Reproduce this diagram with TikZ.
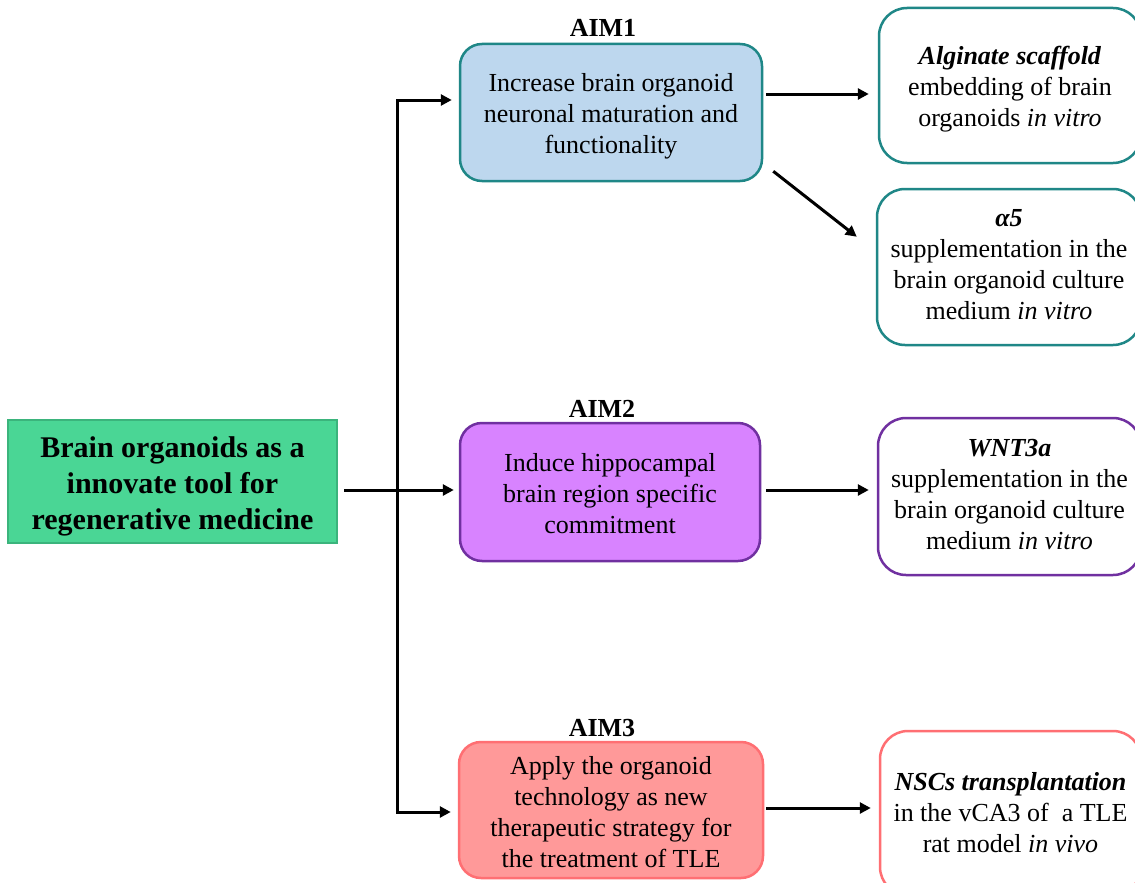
\documentclass[tikz,border=0pt]{standalone}
\usepackage{fontspec}
\setmainfont{Liberation Serif}
\usetikzlibrary{arrows.meta,calc,positioning}
\definecolor{gfill}{HTML}{4AD695}
\definecolor{gdraw}{HTML}{3BB47C}
\definecolor{bfill}{HTML}{BDD7EE}
\definecolor{teal2}{HTML}{1F8787}
\definecolor{pfill}{HTML}{D883FF}
\definecolor{pdraw}{HTML}{7030A0}
\definecolor{rfill}{HTML}{FF9999}
\definecolor{rdraw}{HTML}{FF6F73}
\tikzset{
  txt/.style={font=\fontsize{26}{31}\selectfont, align=center, inner sep=0pt},
  gtxt/.style={font=\fontsize{30}{36}\selectfont\bfseries, align=center, inner sep=0pt},
  aimbox/.style={rounded corners=22pt, line width=2.5pt},
  resbox/.style={rounded corners=28pt, line width=2.5pt, fill=white},
  aimlbl/.style={font=\fontsize{26}{31}\selectfont\bfseries, inner sep=0pt},
  conn/.style={line width=3pt, line cap=rect},
  arr/.style={line width=3pt, -{Triangle[length=11pt,width=11pt]}},
}
\begin{document}
\begin{tikzpicture}[x=1pt,y=-1pt]
\clip (0,0) rectangle (1135,883);
\fill[white] (0,0) rectangle (1135,883);

% main node
\node[draw=gdraw, fill=gfill, line width=2.5pt, minimum width=329pt, minimum height=123pt]
  (g) at (172.5,481.5) {};
\node[gtxt] (gt) at ($(g.center)+(0,5)$) {Brain organoids as a\\innovate tool for\\regenerative medicine};

% aim boxes
\node[aimbox, draw=teal2, fill=bfill, minimum width=302pt, minimum height=137pt] (aim1) at (611,112.5) {};
\node[txt] (aim1t) at ($(aim1.center)+(0,4)$) {Increase brain organoid\\neuronal maturation and\\functionality};
\node[aimbox, draw=pdraw, fill=pfill, minimum width=300pt, minimum height=138pt] (aim2) at (610,492) {};
\node[txt] (aim2t) at ($(aim2.center)+(0,2)$) {Induce hippocampal\\brain region specific\\commitment};
\node[aimbox, draw=rdraw, fill=rfill, minimum width=304pt, minimum height=136pt] (aim3) at (611,810) {};
\node[txt] (aim3t) at ($(aim3.center)+(0,2.5)$) {Apply the organoid\\technology as new\\therapeutic strategy for\\the treatment of TLE};

\node[aimlbl] (l1) at (603,28) {AIM1};
\node[aimlbl] (l2) at (602,409) {AIM2};
\node[aimlbl] (l3) at (602,728) {AIM3};

% result boxes
\node[resbox, draw=teal2, minimum width=262pt, minimum height=155pt] (r1) at (1010,85.5) {};
\node[txt] (r1t) at ($(r1.center)+(0,3.5)$) {\textbf{\textit{Alginate scaffold}}\\embedding of brain\\organoids \textit{in vitro}};
\node[resbox, draw=teal2, minimum width=264pt, minimum height=156pt] (r2) at (1009,267) {};
\node[txt] (r2t) at ($(r2.center)+(0,-2)$) {\textbf{\textit{α5}}\\supplementation in the\\brain organoid culture\\medium \textit{in vitro}};
\node[resbox, draw=pdraw, minimum width=263pt, minimum height=157pt] (r3) at (1009.5,496.5) {};
\node[txt] (r3t) at ($(r3.center)+(0,-2)$) {\textbf{\textit{WNT3a}}\\supplementation in the\\brain organoid culture\\medium \textit{in vitro}};
\node[resbox, draw=rdraw, minimum width=261pt, minimum height=164pt] (r4) at (1010.5,813) {};
\node[txt] (r4t) at (r4.center) {\textbf{\textit{NSCs transplantation}}\\in the vCA3 of\ \ a TLE\\rat model \textit{in vivo}};

% trunk
\coordinate (t1) at (397,100);
\coordinate (t3) at (397,812);
\coordinate (t2) at (397,490);
\draw[conn] (t1) -- (t3);
\draw[arr] (t1) -- ([xshift=-7pt]aim1.west |- t1);
\draw[arr] ([xshift=6pt]g.east |- t2) -- ([xshift=-5pt]aim2.west |- t2);
\draw[arr] (t3) -- ([xshift=-7pt]aim3.west |- t3);

% outputs
\coordinate (y1) at (0,94);
\coordinate (y3) at (0,490);
\coordinate (y4) at (0,808);
\draw[arr] ([xshift=3pt]aim1.east |- y1) -- ([xshift=-9pt]r1.west |- y1);
\draw[arr] ($(aim1.south east)+(10,-11)$) -- ($(r2.north west)+(-19,49)$);
\draw[arr] ([xshift=5pt]aim2.east |- y3) -- ([xshift=-8pt]r3.west |- y3);
\draw[arr] ([xshift=2pt]aim3.east |- y4) -- ([xshift=-8pt]r4.west |- y4);
\end{tikzpicture}
\end{document}
